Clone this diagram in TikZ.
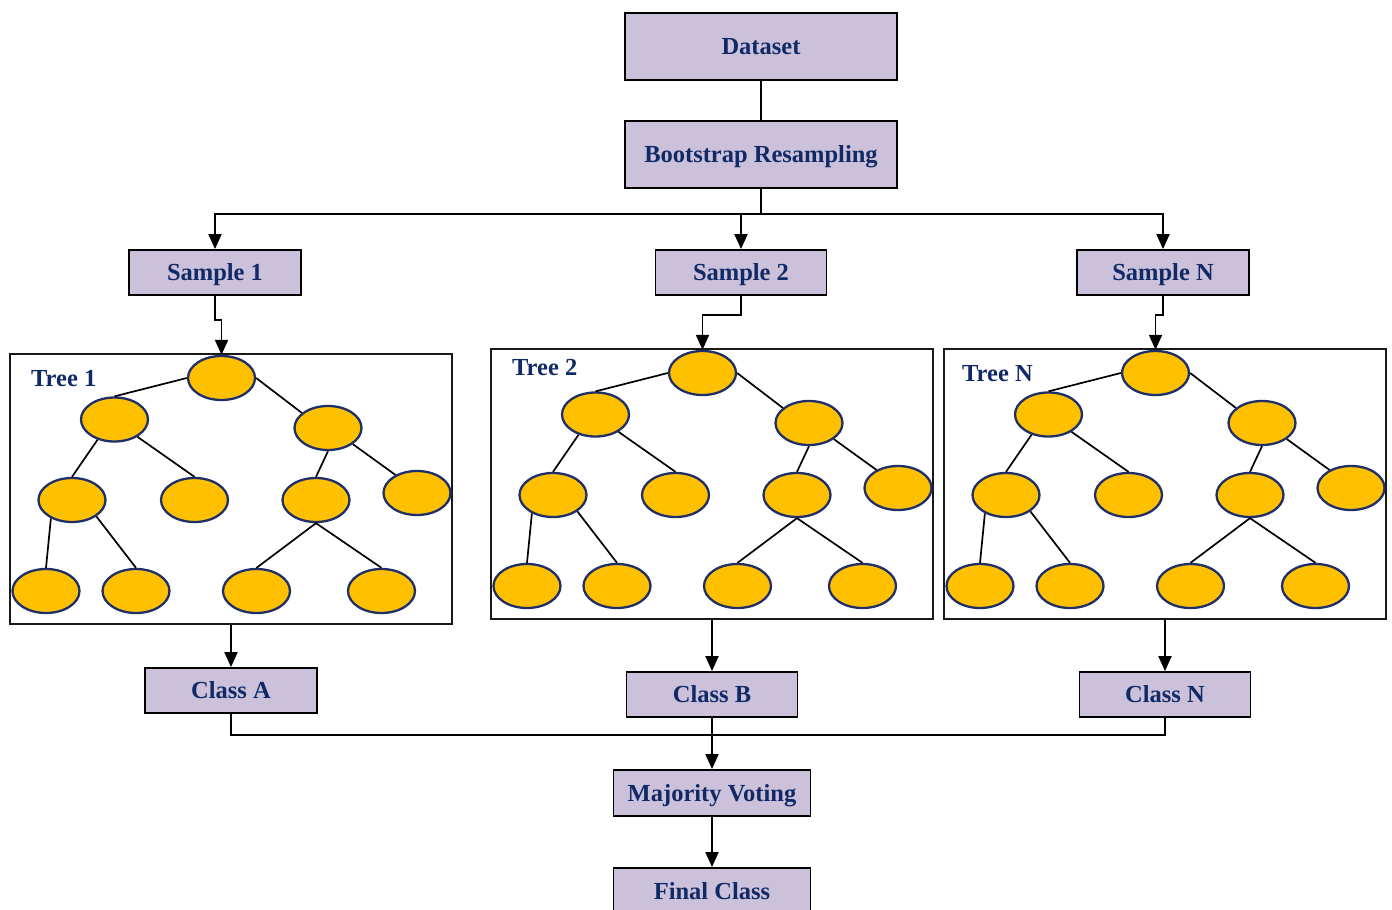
\documentclass[tikz,border=0pt]{standalone}
\usepackage{fontspec}
\setmainfont{Liberation Serif}
\usetikzlibrary{arrows.meta,shapes.geometric}

\definecolor{boxfill}{HTML}{CCC1DA}
\definecolor{navytxt}{HTML}{112A66}
\definecolor{leaffill}{HTML}{FFC000}
\definecolor{leafline}{HTML}{1F3069}

\tikzset{
  flowbox/.style={draw=black, line width=1.8pt, fill=boxfill, text=navytxt,
    font=\bfseries\fontsize{24.5}{28}\selectfont, inner sep=0pt,
    text height=16.6pt, text depth=0pt, minimum width=172pt, minimum height=45pt},
  treelabel/.style={text=navytxt, font=\bfseries\fontsize{24.5}{28}\selectfont,
    inner sep=0pt, anchor=base west},
  treebox/.style={draw=black!90, line width=1.5pt, minimum width=442pt,
    minimum height=270pt, inner sep=0pt, outer sep=0pt},
  leaf/.style={ellipse, draw=leafline, fill=leaffill, line width=2.3pt,
    minimum width=67pt, minimum height=44pt, inner sep=0pt},
  branch/.style={draw=black, line width=1.7pt},
  link/.style={draw=black, line width=1.9pt},
  arr/.style={link, -{Triangle[length=15pt,width=13pt]}},
  % one decision tree inside its frame, origin at the frame's top-left corner
  pics/dtree/.style={code={
    \node[treebox, anchor=north west] (box) at (0,0) {};
    \node[leaf] (r) at (211.5,24) {};
    \node[leaf] (a) at (104.5,65.5) {};
    \node[leaf] (b) at (318,74) {};
    \node[leaf] (c) at (62,146) {};
    \node[leaf] (d) at (184.5,146) {};
    \node[leaf] (e) at (306,146) {};
    \node[leaf] (f) at (407,139) {};
    \node[leaf] (g) at (36,237) {};
    \node[leaf] (h) at (126,237) {};
    \node[leaf] (i) at (246.5,237) {};
    \node[leaf] (j) at (371.5,237) {};
    \draw[branch] (r.west) -- (a.north);
    \draw[branch] (r.east) -- (b.150);
    \draw[branch] (a.230) -- (c.north);
    \draw[branch] (a.-37) -- (d.north);
    \draw[branch] (b.south) -- (e.north);
    \draw[branch] (b.-33) -- (f.140);
    \draw[branch] (c.221) -- (g.north);
    \draw[branch] (c.-34) -- (h.north);
    \draw[branch] (e.south) -- (i.north);
    \draw[branch] (e.south) -- (j.north);
  }}
}

\begin{document}
\begin{tikzpicture}[x=1pt,y=-1pt]
  \useasboundingbox (0,0) rectangle (1392,910);

  % top of the flow
  \node[flowbox, minimum width=272pt, minimum height=67pt] (data) at (761,46.5) {Dataset};
  \node[flowbox, minimum width=272pt, minimum height=67pt] (boot) at (761,154.5) {Bootstrap Resampling};

  % bootstrap samples
  \node[flowbox] (s1) at (215,272.5) {Sample 1};
  \node[flowbox, minimum width=171pt] (s2) at (741,272.5) {Sample 2};
  \node[flowbox] (sN) at (1163,272.5) {Sample N};

  % the trees
  \pic (t1) at (10,354) {dtree};
  \pic (t2) at (491,349) {dtree};
  \pic (tN) at (944,349) {dtree};
  \node[treelabel] (lab1) at (31,386) {Tree 1};
  \node[treelabel] (lab2) at (512,375) {Tree 2};
  \node[treelabel] (labN) at (962,381.5) {Tree N};

  % per-tree predictions
  \node[flowbox] (cA) at (231,690.5) {Class A};
  \node[flowbox, minimum width=171pt] (cB) at (712,694.5) {Class B};
  \node[flowbox, minimum width=171pt] (cN) at (1165,694.5) {Class N};

  % aggregation
  \node[flowbox, minimum width=197pt, minimum height=46pt] (mv) at (712,793) {Majority Voting};
  \node[flowbox, minimum width=197pt, minimum height=46pt] (fc) at (712,891) {Final Class};

  \coordinate (split) at (761,214);
  \coordinate (join) at (712,735);

  % connectors
  \draw[link] (data.south) -- (boot.north);
  \draw[link] (boot.south) -- (split);
  \draw[arr] (split) -| (s1.north);
  \draw[arr] (split) -| (s2.north);
  \draw[arr] (split) -| (sN.north);

  \draw[arr] (s1.south) -- ++(0,24) -| (t1r.north);
  \draw[arr] (s2.south) -- ++(0,19) -| (t2r.north);
  \draw[arr] (sN.south) -- ++(0,19) -| (tNr.north);

  \draw[arr] (cA.north |- t1box.south) -- (cA.north);
  \draw[arr] (cB.north |- t2box.south) -- (cB.north);
  \draw[arr] (cN.north |- tNbox.south) -- (cN.north);

  \draw[link] (cA.south) |- (join) -| (cN.south);
  \draw[arr] (cB.south) -- (mv.north);
  \draw[arr] (mv.south) -- (fc.north);
\end{tikzpicture}
\end{document}
